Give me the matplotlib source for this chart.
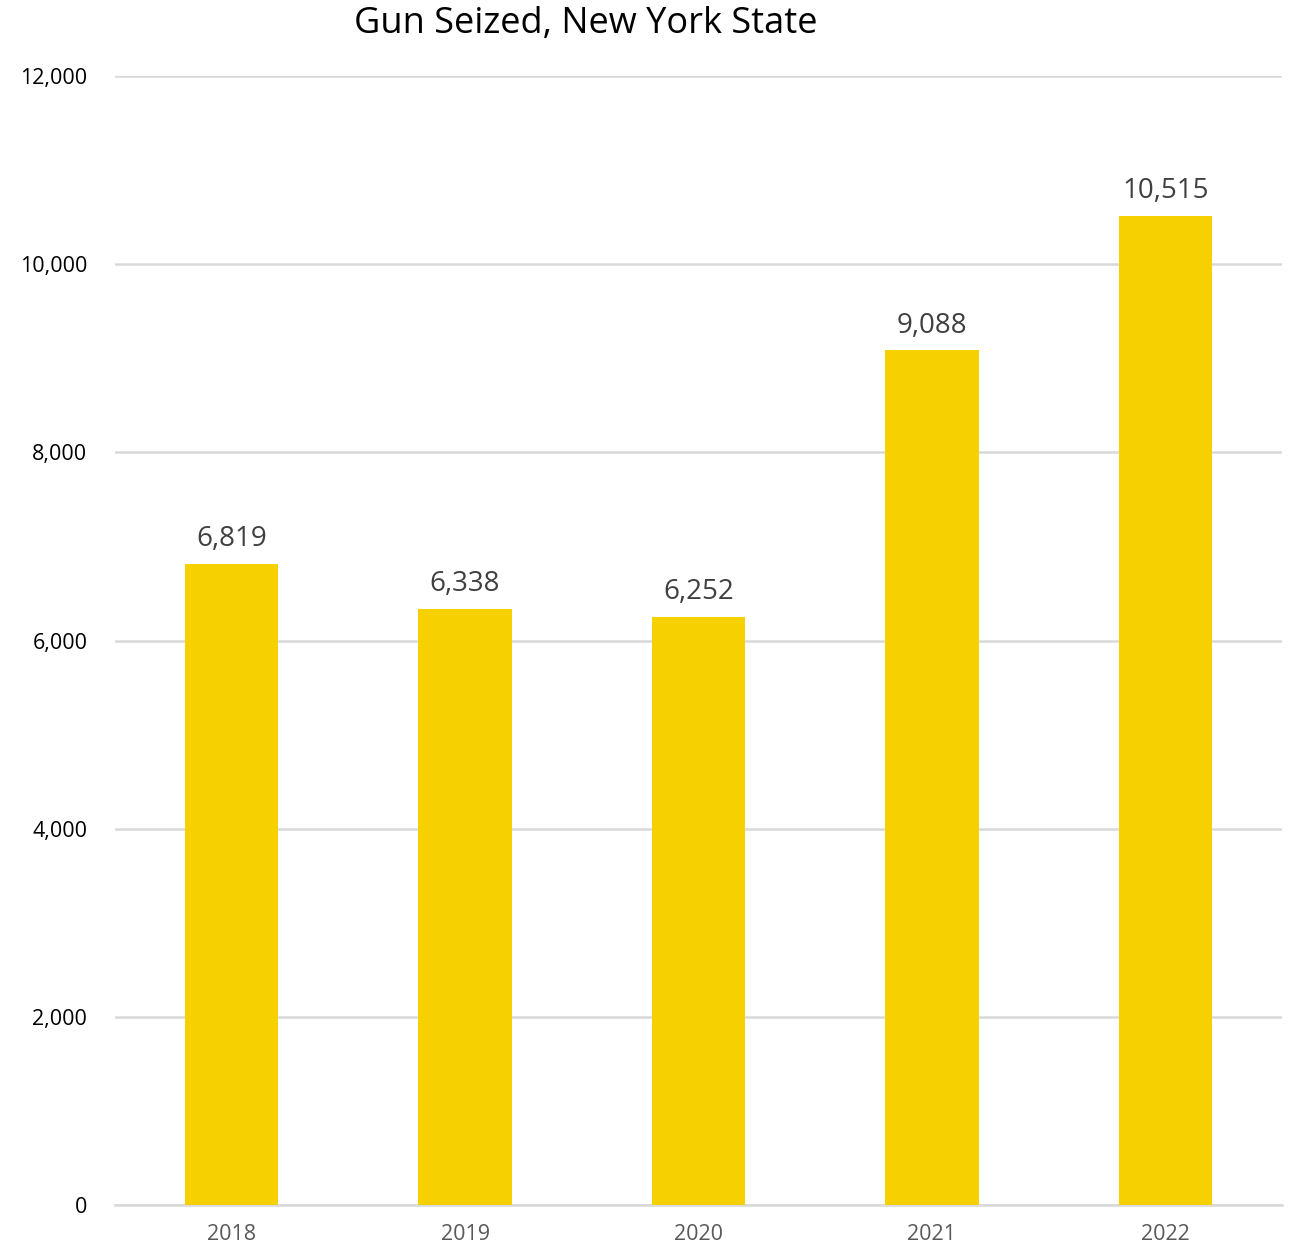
import matplotlib
matplotlib.use('Agg')
import matplotlib.pyplot as plt

# dati
years = ['2018', '2019', '2020', '2021', '2022']
guns = [6819, 6338, 6252, 9088, 10515]
yticks = [0, 2000, 4000, 6000, 8000, 10000, 12000]

plt.rcParams['font.family'] = ['Open Sans', 'DejaVu Sans']

fig = plt.figure(figsize=(12.91, 12.45), dpi=100)
ax = fig.add_axes([0.0891, 0.0321, 0.9039, 0.9068])

x = range(len(years))
bars = ax.bar(x, guns, width=0.40, color='#F7D000', zorder=3)

for xi, v in zip(x, guns):
    ax.text(xi, v + 110, f'{v:,}', ha='center', va='bottom',
            fontsize=20, color='#404040')

ax.set_xlim(-0.5, 4.5)
ax.set_ylim(0, 12000)
ax.set_yticks(yticks)
ax.set_yticklabels([f'{t:,}' for t in yticks], fontsize=15.5, color='black')
ax.set_xticks(list(x))
ax.set_xticklabels(years, fontsize=15.5, color='#595959')
ax.tick_params(axis='both', length=0)
ax.tick_params(axis='y', pad=20)
ax.tick_params(axis='x', pad=14)

ax.grid(axis='y', color='#D9D9D9', linewidth=1.8, zorder=0)
for s in ['top', 'right', 'left']:
    ax.spines[s].set_visible(False)
ax.spines['bottom'].set_color('#D9D9D9')
ax.spines['bottom'].set_linewidth(1.8)

fig.text(0.454, 0.981, 'Gun Seized, New York State', ha='center', va='center',
         fontsize=26, color='black')

fig.savefig('out.png', dpi=100)
